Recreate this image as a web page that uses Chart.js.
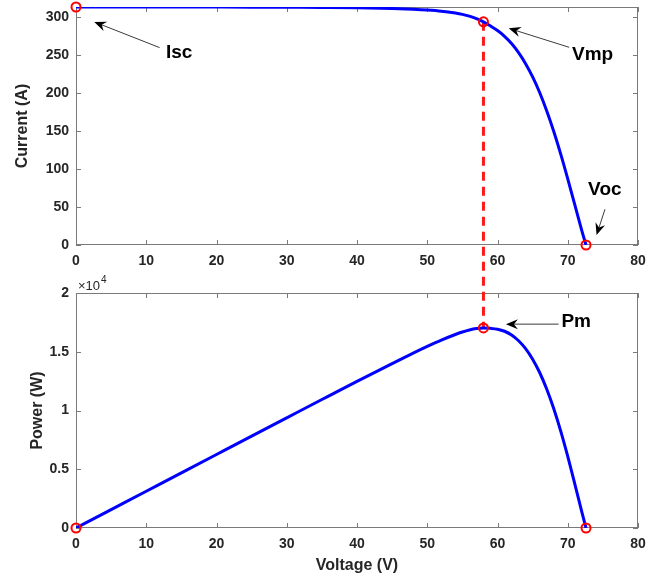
<!DOCTYPE html>
<html>
<head>
<meta charset="utf-8">
<title>PV characteristics</title>
<script src="https://cdn.jsdelivr.net/npm/chart.js@4.4.0/dist/chart.umd.min.js"></script>
<style>
    html, body { margin: 0; padding: 0; background: #fff; }
    #wrap { position: relative; width: 653px; height: 577px; overflow: hidden; }
    canvas { position: absolute; left: 0; }
    #ivChart { top: 0; }
    #pvChart { top: 270px; }
</style>
</head>
<body>
<div id="wrap">
    <canvas id="ivChart" width="653" height="270"></canvas>
    <canvas id="pvChart" width="653" height="307"></canvas>
</div>
<script>
// curve samples
const voltage = [0, 5, 10, 15, 20, 25, 30, 35, 40, 45, 48, 50, 52, 54, 55, 56, 57, 58, 59, 60, 61, 62, 63, 64, 65, 66, 67, 68, 69, 70, 71, 72, 72.6];
const current = [313, 313, 313, 313, 312.9, 312.8, 312.6, 312.4, 312, 311, 310, 309, 307.5, 305, 303.3, 301, 297.8, 293.5, 288, 282, 274.5, 265, 253, 238.5, 221, 200.5, 176.5, 149.5, 119.5, 87, 53, 19, 0];
const power = [0, 1565, 3130, 4695, 6258, 7820, 9378, 10934, 12480, 13995, 14880, 15450, 15990, 16470, 16682, 16856, 16975, 17023, 16992, 16920, 16745, 16430, 15939, 15264, 14365, 13233, 11826, 10166, 8246, 6090, 3763, 1368, 0];

// marked points: Isc, Vmp, Voc
const keyVoltage = [0, 58, 72.6];
const keyCurrent = [313, 293.5, 0];
const keyPower = [0, 17023, 0];

const xTicks = [0, 10, 20, 30, 40, 50, 60, 70, 80];
const currentTicks = [0, 50, 100, 150, 200, 250, 300];
const powerTicks = [0, 5000, 10000, 15000, 20000];

// text notes, in data units: label spot, arrow tail, arrow head
const ivNotes = [
    { text: 'Isc', at: [12.8, 253], from: [11.9, 259.6], to: [2.6, 293.4] },
    { text: 'Vmp', at: [70.6, 250], from: [70.2, 260], to: [61.6, 285] },
    { text: 'Voc', at: [72.9, 72.4], from: [75.3, 47], to: [74.1, 13] }
];
const pvNotes = [
    { text: 'Pm', at: [69.1, 17550], from: [68.7, 17350], to: [61.2, 17350] }
];

const TEXT = '#262626';
const AXIS = '#7a7a7a';
const FONT = "'Liberation Sans', Arial, sans-serif";
let dashCarry = 0;

Chart.defaults.font.family = FONT;
Chart.defaults.color = TEXT;

/**
 * MATLAB style box with inward ticks on all four sides
 */
const boxPlugin = {
    id: 'box',
    beforeDatasetsDraw(chart) {
        const { ctx, chartArea: a, scales: { x, y } } = chart;
        const len = 5;
        ctx.save();
        ctx.strokeStyle = AXIS;
        ctx.lineWidth = 1;
        ctx.strokeRect(Math.round(a.left) + 0.5, Math.round(a.top) + 0.5,
            Math.round(a.width) - 1, Math.round(a.height) - 1);
        ctx.beginPath();
        x.ticks.forEach(t => {
            const px = Math.round(x.getPixelForValue(t.value)) + 0.5;
            ctx.moveTo(px, a.bottom); ctx.lineTo(px, a.bottom - len);
            ctx.moveTo(px, a.top); ctx.lineTo(px, a.top + len);
        });
        y.ticks.forEach(t => {
            const py = Math.round(y.getPixelForValue(t.value)) + 0.5;
            ctx.moveTo(a.left, py); ctx.lineTo(a.left + len, py);
            ctx.moveTo(a.right, py); ctx.lineTo(a.right - len, py);
        });
        ctx.stroke();
        ctx.restore();
    }
};

/**
 * Arrow with a swept-back filled head
 */
function drawArrow(ctx, x1, y1, x2, y2) {
    const ang = Math.atan2(y2 - y1, x2 - x1);
    const c = Math.cos(ang), s = Math.sin(ang);
    const len = 12, half = 5, back = 8;
    ctx.beginPath();
    ctx.moveTo(x1, y1);
    ctx.lineTo(x2 - c * back, y2 - s * back);
    ctx.stroke();
    ctx.beginPath();
    ctx.moveTo(x2, y2);
    ctx.lineTo(x2 - len * c + half * s, y2 - len * s - half * c);
    ctx.lineTo(x2 - back * c, y2 - back * s);
    ctx.lineTo(x2 - len * c - half * s, y2 - len * s + half * c);
    ctx.closePath();
    ctx.fill();
}

function notesPlugin(notes) {
    return {
        id: 'notes',
        afterDatasetsDraw(chart) {
            const { ctx, scales: { x, y } } = chart;
            ctx.save();
            ctx.strokeStyle = '#3a3a3a';
            ctx.fillStyle = '#000';
            ctx.lineWidth = 1;
            notes.forEach(n => {
                drawArrow(ctx, x.getPixelForValue(n.from[0]), y.getPixelForValue(n.from[1]),
                    x.getPixelForValue(n.to[0]), y.getPixelForValue(n.to[1]));
                ctx.font = 'bold 19px ' + FONT;
                ctx.textAlign = 'left';
                ctx.textBaseline = 'middle';
                ctx.fillText(n.text, x.getPixelForValue(n.at[0]), y.getPixelForValue(n.at[1]));
            });
            ctx.restore();
        }
    };
}

/**
 * Red dashed line at Vmp, split across the two canvases
 */
function dashPlugin(isTop) {
    return {
        id: 'dash',
        beforeDatasetsDraw(chart) {
            const { ctx, scales: { x, y } } = chart;
            const px = x.getPixelForValue(keyVoltage[1]);
            let y0, y1;
            if (isTop) {
                y0 = y.getPixelForValue(keyCurrent[1]);
                y1 = chart.height;
                dashCarry = y1 - y0;
            } else {
                y0 = 0;
                y1 = y.getPixelForValue(keyPower[1]);
            }
            ctx.save();
            ctx.strokeStyle = '#ff1a1a';
            ctx.lineWidth = 3;
            ctx.setLineDash([9, 6]);
            ctx.lineDashOffset = isTop ? 0 : dashCarry;
            ctx.beginPath();
            ctx.moveTo(px, y0);
            ctx.lineTo(px, y1);
            ctx.stroke();
            ctx.restore();
        }
    };
}

/**
 * x10^4 multiplier over the power axis
 */
const exponentPlugin = {
    id: 'exponent',
    afterDraw(chart) {
        const { ctx, chartArea: a } = chart;
        ctx.save();
        ctx.fillStyle = TEXT;
        ctx.textBaseline = 'alphabetic';
        ctx.textAlign = 'left';
        ctx.font = '13px ' + FONT;
        ctx.fillText('\u00d710', a.left + 2, a.top - 3);
        const w = ctx.measureText('\u00d710').width;
        ctx.font = '10px ' + FONT;
        ctx.fillText('4', a.left + 3 + w, a.top - 10);
        ctx.restore();
    }
};

function xScale(withTitle, axisHeight) {
    return {
        type: 'linear',
        min: 0,
        max: 80,
        afterBuildTicks: s => { s.ticks = xTicks.map(v => ({ value: v })); },
        ticks: { padding: 8, color: TEXT, maxRotation: 0, autoSkip: false, font: { size: 14, weight: 'bold' } },
        grid: { display: false, drawTicks: false },
        border: { display: false },
        title: {
            display: withTitle,
            text: 'Voltage (V)',
            color: TEXT,
            font: { size: 16, weight: 'bold' },
            padding: { top: 0, bottom: 2 }
        },
        afterFit: s => { s.height = axisHeight; s.paddingLeft = 0; s.paddingRight = 0; }
    };
}

function yScale(max, tickList, label, titleGap, fmt) {
    return {
        type: 'linear',
        min: 0,
        max: max,
        afterBuildTicks: s => { s.ticks = tickList.map(v => ({ value: v })); },
        ticks: { padding: 7, color: TEXT, autoSkip: false, font: { size: 14, weight: 'bold' }, callback: fmt },
        grid: { display: false, drawTicks: false },
        border: { display: false },
        title: {
            display: true,
            text: label,
            color: TEXT,
            font: { size: 16, weight: 'bold' },
            padding: { top: titleGap, bottom: 0 }
        },
        afterFit: s => { s.width = 76; s.paddingTop = 0; s.paddingBottom = 0; }
    };
}

function curveSet(values) {
    return {
        data: voltage.map((v, i) => ({ x: v, y: values[i] })),
        showLine: true,
        borderColor: '#0000ff',
        borderWidth: 3,
        pointRadius: 0,
        cubicInterpolationMode: 'monotone'
    };
}

function markerSet(values) {
    return {
        data: keyVoltage.map((v, i) => ({ x: v, y: values[i] })),
        showLine: false,
        pointRadius: 4.5,
        pointBorderWidth: 2,
        pointBorderColor: '#ff0000',
        pointBackgroundColor: 'rgba(0,0,0,0)',
        clip: false
    };
}

const common = {
    responsive: false,
    animation: false,
    plugins: { legend: { display: false }, tooltip: { enabled: false } }
};

// I-V curve
new Chart(document.getElementById('ivChart'), {
    type: 'scatter',
    data: { datasets: [markerSet(keyCurrent), curveSet(current)] },
    options: {
        ...common,
        layout: { padding: { top: 7, right: 15, left: 0, bottom: 0 } },
        scales: {
            x: xScale(false, 25),
            y: yScale(313, currentTicks, 'Current (A)', 13, v => v)
        }
    },
    plugins: [boxPlugin, dashPlugin(true), notesPlugin(ivNotes)]
});

// P-V curve
new Chart(document.getElementById('pvChart'), {
    type: 'scatter',
    data: { datasets: [markerSet(keyPower), curveSet(power)] },
    options: {
        ...common,
        layout: { padding: { top: 23, right: 15, left: 0, bottom: 0 } },
        scales: {
            x: xScale(true, 49),
            y: yScale(20000, powerTicks, 'Power (W)', 28, v => String(v / 10000))
        }
    },
    plugins: [boxPlugin, dashPlugin(false), exponentPlugin, notesPlugin(pvNotes)]
});
</script>
</body>
</html>
